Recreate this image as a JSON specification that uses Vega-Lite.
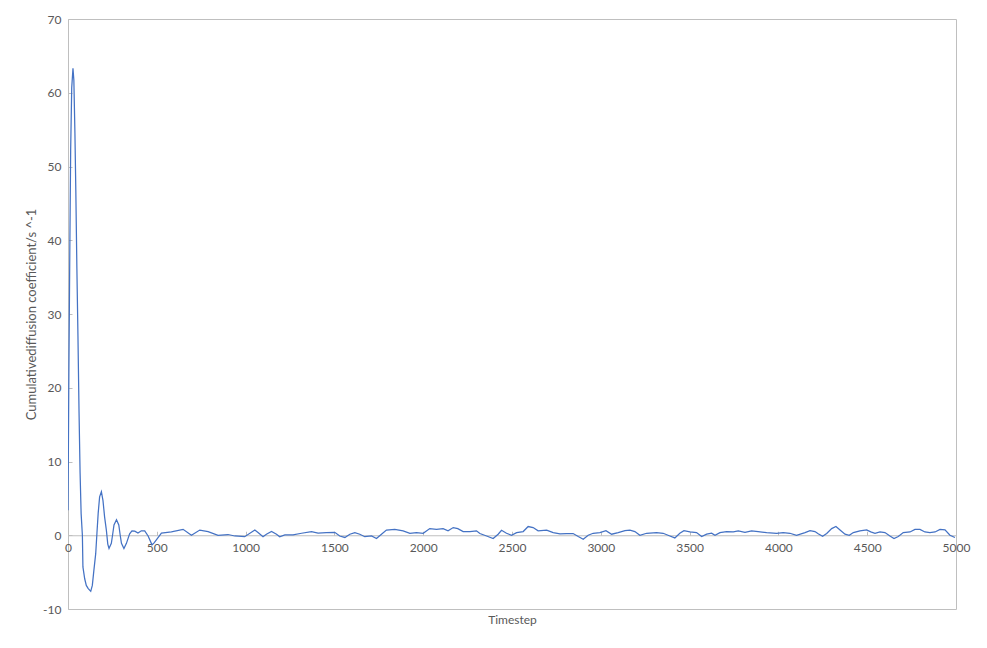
{
  "$schema": "https://vega.github.io/schema/vega-lite/v6.json",
  "width": 888,
  "height": 590,
  "autosize": {"type": "none"},
  "padding": {"left": 68, "top": 19, "right": 31, "bottom": 39},
  "background": "white",
  "config": {
    "view": {"stroke": "#bfbfbf", "strokeWidth": 1},
    "font": "Lato"
  },
  "data": {
    "values": [
      {"t": 0, "v": 3.4}, {"t": 5, "v": 22.4}, {"t": 10, "v": 38.0}, {"t": 15, "v": 52.2},
      {"t": 21, "v": 60.7}, {"t": 28, "v": 63.3}, {"t": 33, "v": 61.7}, {"t": 39, "v": 54.5},
      {"t": 44, "v": 46.8}, {"t": 50, "v": 36.2}, {"t": 56, "v": 27.1}, {"t": 62, "v": 16.9},
      {"t": 68, "v": 8.5}, {"t": 74, "v": 2.9}, {"t": 81, "v": 0.0}, {"t": 84, "v": -4.3},
      {"t": 94, "v": -5.9}, {"t": 103, "v": -6.8}, {"t": 113, "v": -7.2}, {"t": 128, "v": -7.6},
      {"t": 137, "v": -6.8}, {"t": 146, "v": -4.7}, {"t": 156, "v": -2.5}, {"t": 163, "v": 0.3},
      {"t": 170, "v": 3.0}, {"t": 178, "v": 5.2}, {"t": 188, "v": 5.9}, {"t": 197, "v": 4.7},
      {"t": 206, "v": 2.5}, {"t": 216, "v": 0.7}, {"t": 224, "v": -1.2}, {"t": 231, "v": -1.8},
      {"t": 244, "v": -1.1}, {"t": 252, "v": 0.2}, {"t": 259, "v": 1.4}, {"t": 273, "v": 2.1},
      {"t": 286, "v": 1.4}, {"t": 294, "v": 0.0}, {"t": 301, "v": -1.1}, {"t": 315, "v": -1.8},
      {"t": 329, "v": -1.1}, {"t": 347, "v": 0.2},
      {"t": 360, "v": 0.6}, {"t": 376, "v": 0.55}, {"t": 394, "v": 0.3}, {"t": 413, "v": 0.6},
      {"t": 432, "v": 0.6}, {"t": 451, "v": -0.1}, {"t": 473, "v": -1.3}, {"t": 486, "v": -1.0},
      {"t": 526, "v": 0.3}, {"t": 582, "v": 0.45}, {"t": 648, "v": 0.8}, {"t": 695, "v": 0.0},
      {"t": 742, "v": 0.7}, {"t": 789, "v": 0.5}, {"t": 845, "v": 0.0}, {"t": 901, "v": 0.1},
      {"t": 939, "v": -0.1}, {"t": 995, "v": -0.2}, {"t": 1052, "v": 0.7}, {"t": 1070, "v": 0.36},
      {"t": 1098, "v": -0.2}, {"t": 1117, "v": 0.14}, {"t": 1146, "v": 0.5}, {"t": 1174, "v": 0.14},
      {"t": 1192, "v": -0.2}, {"t": 1221, "v": 0.05}, {"t": 1267, "v": 0.05}, {"t": 1315, "v": 0.27},
      {"t": 1371, "v": 0.5}, {"t": 1408, "v": 0.3}, {"t": 1455, "v": 0.36}, {"t": 1502, "v": 0.4},
      {"t": 1530, "v": -0.1}, {"t": 1559, "v": -0.3}, {"t": 1587, "v": 0.14}, {"t": 1615, "v": 0.36},
      {"t": 1643, "v": 0.14}, {"t": 1671, "v": -0.2}, {"t": 1709, "v": -0.1}, {"t": 1737, "v": -0.45},
      {"t": 1765, "v": 0.14}, {"t": 1793, "v": 0.7}, {"t": 1840, "v": 0.8}, {"t": 1887, "v": 0.6},
      {"t": 1925, "v": 0.27}, {"t": 1962, "v": 0.36}, {"t": 2000, "v": 0.27}, {"t": 2037, "v": 0.9},
      {"t": 2075, "v": 0.8}, {"t": 2112, "v": 0.9}, {"t": 2140, "v": 0.6}, {"t": 2169, "v": 1.04},
      {"t": 2195, "v": 0.9}, {"t": 2225, "v": 0.5}, {"t": 2263, "v": 0.5}, {"t": 2300, "v": 0.6},
      {"t": 2319, "v": 0.23}, {"t": 2357, "v": -0.1}, {"t": 2394, "v": -0.45}, {"t": 2422, "v": 0.14},
      {"t": 2441, "v": 0.68}, {"t": 2469, "v": 0.27}, {"t": 2497, "v": 0.0}, {"t": 2526, "v": 0.36},
      {"t": 2563, "v": 0.5}, {"t": 2591, "v": 1.18}, {"t": 2619, "v": 1.04}, {"t": 2647, "v": 0.6},
      {"t": 2695, "v": 0.7}, {"t": 2732, "v": 0.36}, {"t": 2770, "v": 0.18}, {"t": 2807, "v": 0.23},
      {"t": 2844, "v": 0.23}, {"t": 2873, "v": -0.18}, {"t": 2901, "v": -0.54}, {"t": 2929, "v": 0.0},
      {"t": 2957, "v": 0.27}, {"t": 2995, "v": 0.36}, {"t": 3029, "v": 0.63}, {"t": 3061, "v": 0.14},
      {"t": 3098, "v": 0.36}, {"t": 3136, "v": 0.63}, {"t": 3164, "v": 0.7}, {"t": 3192, "v": 0.5},
      {"t": 3220, "v": 0.0}, {"t": 3258, "v": 0.27}, {"t": 3314, "v": 0.36}, {"t": 3351, "v": 0.27},
      {"t": 3389, "v": -0.1}, {"t": 3417, "v": -0.36}, {"t": 3445, "v": 0.27}, {"t": 3468, "v": 0.63},
      {"t": 3502, "v": 0.45}, {"t": 3539, "v": 0.36}, {"t": 3568, "v": -0.18}, {"t": 3596, "v": 0.14},
      {"t": 3624, "v": 0.27}, {"t": 3643, "v": 0.0}, {"t": 3671, "v": 0.36}, {"t": 3708, "v": 0.5},
      {"t": 3746, "v": 0.45}, {"t": 3774, "v": 0.6}, {"t": 3812, "v": 0.4}, {"t": 3849, "v": 0.6},
      {"t": 3886, "v": 0.5}, {"t": 3934, "v": 0.36}, {"t": 3990, "v": 0.27}, {"t": 4027, "v": 0.36},
      {"t": 4065, "v": 0.27}, {"t": 4102, "v": 0.0}, {"t": 4150, "v": 0.36}, {"t": 4178, "v": 0.63},
      {"t": 4206, "v": 0.5}, {"t": 4224, "v": 0.2}, {"t": 4249, "v": -0.15}, {"t": 4272, "v": 0.23},
      {"t": 4300, "v": 0.9}, {"t": 4324, "v": 1.18}, {"t": 4347, "v": 0.72}, {"t": 4375, "v": 0.14},
      {"t": 4399, "v": 0.0}, {"t": 4422, "v": 0.36}, {"t": 4459, "v": 0.6}, {"t": 4497, "v": 0.72},
      {"t": 4520, "v": 0.45}, {"t": 4544, "v": 0.27}, {"t": 4572, "v": 0.45}, {"t": 4600, "v": 0.36},
      {"t": 4628, "v": -0.1}, {"t": 4651, "v": -0.45}, {"t": 4675, "v": -0.18}, {"t": 4703, "v": 0.36},
      {"t": 4741, "v": 0.45}, {"t": 4769, "v": 0.8}, {"t": 4797, "v": 0.8}, {"t": 4825, "v": 0.45},
      {"t": 4853, "v": 0.36}, {"t": 4882, "v": 0.45}, {"t": 4910, "v": 0.8}, {"t": 4938, "v": 0.72},
      {"t": 4966, "v": 0.0}, {"t": 4994, "v": -0.3}
    ]
  },
  "mark": {"type": "line", "color": "#4472c4", "strokeWidth": 1.25, "clip": true},
  "encoding": {
    "x": {
      "field": "t", "type": "quantitative",
      "scale": {"domain": [0, 5000], "nice": false, "zero": false},
      "axis": {
        "title": "Timestep",
        "values": [0, 500, 1000, 1500, 2000, 2500, 3000, 3500, 4000, 4500, 5000],
        "labelExpr": "'' + datum.value",
        "offset": -73.75,
        "grid": false,
        "domain": true, "domainColor": "#bfbfbf", "domainWidth": 1,
        "ticks": true, "tickColor": "#bfbfbf", "tickSize": -4,
        "labelColor": "#595959", "labelFontSize": 12, "labelPadding": 11, "labelFont": "Lato",
        "labelFlush": false, "labelOverlap": false,
        "titleColor": "#595959", "titleFontSize": 12, "titleFontWeight": "normal", "titleFont": "Lato",
        "titleY": 79, "titleBaseline": "top"
      }
    },
    "y": {
      "field": "v", "type": "quantitative",
      "scale": {"domain": [-10, 70], "nice": false, "zero": false},
      "axis": {
        "title": "Cumulativediffusion coefficient/s ^-1",
        "values": [-10, 0, 10, 20, 30, 40, 50, 60, 70],
        "labelExpr": "'' + datum.value",
        "grid": false,
        "domain": false,
        "ticks": true, "tickColor": "#bfbfbf", "tickSize": -4,
        "labelColor": "#595959", "labelFontSize": 12, "labelPadding": 11, "labelFont": "Lato",
        "labelFlush": false, "labelOverlap": false,
        "titleColor": "#595959", "titleFontSize": 13, "titleFontWeight": "normal", "titleFont": "Lato",
        "titleAngle": -90, "titleX": -37, "titleY": 295, "titleAlign": "center", "titleBaseline": "middle"
      }
    }
  }
}
